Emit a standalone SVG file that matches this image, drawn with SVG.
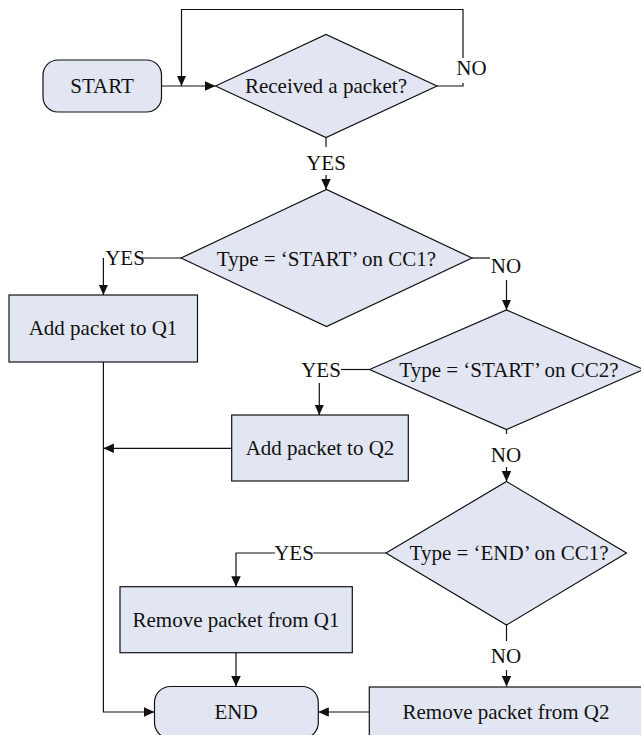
<svg xmlns="http://www.w3.org/2000/svg" width="641" height="735" viewBox="0 0 641 735">
<style>
.shape{fill:#E2E6F2;stroke:#111;stroke-width:1.2}
.line{fill:none;stroke:#111;stroke-width:1.2}
text{font-family:"Liberation Serif","Times New Roman",serif;font-size:21px;fill:#111;text-anchor:middle}
</style>
<defs>
<marker id="arr" markerUnits="userSpaceOnUse" markerWidth="11" markerHeight="10" refX="10.5" refY="4.75" orient="auto">
<path d="M0,0 L10.5,4.75 L0,9.5 z" fill="#111"/>
</marker>
</defs>
<rect width="641" height="735" fill="#fff"/>
<g id="connectors">
<path class="line" d="M161.5,86 H215.5" marker-end="url(#arr)"/>
<path class="line" d="M437,86 H463 V83"/>
<path class="line" d="M463,58 V9.5 H181.5 V86" marker-end="url(#arr)"/>
<text x="471.5" y="75">NO</text>
<path class="line" d="M326,137.5 V147"/>
<text x="326" y="170">YES</text>
<path class="line" d="M326,175 V189.5" marker-end="url(#arr)"/>
<path class="line" d="M181,258 H142"/>
<text x="125" y="265">YES</text>
<path class="line" d="M103.4,258 V295" marker-end="url(#arr)"/>
<path class="line" d="M472,258 H490"/>
<text x="506" y="273">NO</text>
<path class="line" d="M506.5,280 V310" marker-end="url(#arr)"/>
<path class="line" d="M369.5,369.5 H341"/>
<text x="321" y="377">YES</text>
<path class="line" d="M319.3,383 V415" marker-end="url(#arr)"/>
<path class="line" d="M231.7,448.3 H103.4" marker-end="url(#arr)"/>
<path class="line" d="M103.4,362 V712 H154.5" marker-end="url(#arr)"/>
<path class="line" d="M506.5,429.5 V434"/>
<text x="506" y="461.5">NO</text>
<path class="line" d="M506.5,467 V481.5" marker-end="url(#arr)"/>
<path class="line" d="M386,553 H313.5"/>
<text x="294" y="559.5">YES</text>
<path class="line" d="M275,553 H236 V586.7" marker-end="url(#arr)"/>
<path class="line" d="M236,652.7 V686.5" marker-end="url(#arr)"/>
<path class="line" d="M506.5,625 V641"/>
<text x="506" y="663">NO</text>
<path class="line" d="M506.5,670 V686.5" marker-end="url(#arr)"/>
<path class="line" d="M369.3,712 H318.3" marker-end="url(#arr)"/>
</g>
<g id="start">
<rect class="shape" x="43" y="60" width="118.5" height="52" rx="15" ry="15"/>
<text x="102" y="93">START</text>
</g>
<g id="received">
<polygon class="shape" points="215.5,86 326,34.5 437,86 326,137.5"/>
<text x="326" y="93">Received a packet?</text>
</g>
<g id="start_cc1">
<polygon class="shape" points="181,258 326.5,189.5 472,258 326.5,326.5"/>
<text x="326.5" y="265.5">Type = ‘START’ on CC1?</text>
</g>
<g id="add_q1">
<rect class="shape" x="9" y="295" width="188.5" height="67"/>
<text x="103" y="335">Add packet to Q1</text>
</g>
<g id="start_cc2">
<polygon class="shape" points="369.5,369.5 506.5,310 643.5,369.5 506.5,429.5"/>
<text x="509" y="377">Type = ‘START’ on CC2?</text>
</g>
<g id="add_q2">
<rect class="shape" x="231.7" y="415" width="176.6" height="66"/>
<text x="320" y="455">Add packet to Q2</text>
</g>
<g id="end_cc1">
<polygon class="shape" points="386,553 506.5,481.5 626.5,553 506.5,625"/>
<text x="509" y="560">Type = ‘END’ on CC1?</text>
</g>
<g id="remove_q1">
<rect class="shape" x="120" y="586.7" width="232.3" height="66"/>
<text x="236" y="626.7">Remove packet from Q1</text>
</g>
<g id="end">
<rect class="shape" x="154.5" y="686.5" width="163.8" height="52" rx="16" ry="16"/>
<text x="236" y="719.3">END</text>
</g>
<g id="remove_q2">
<rect class="shape" x="369.3" y="687" width="276" height="56"/>
<text x="506" y="718.5">Remove packet from Q2</text>
</g>
</svg>
